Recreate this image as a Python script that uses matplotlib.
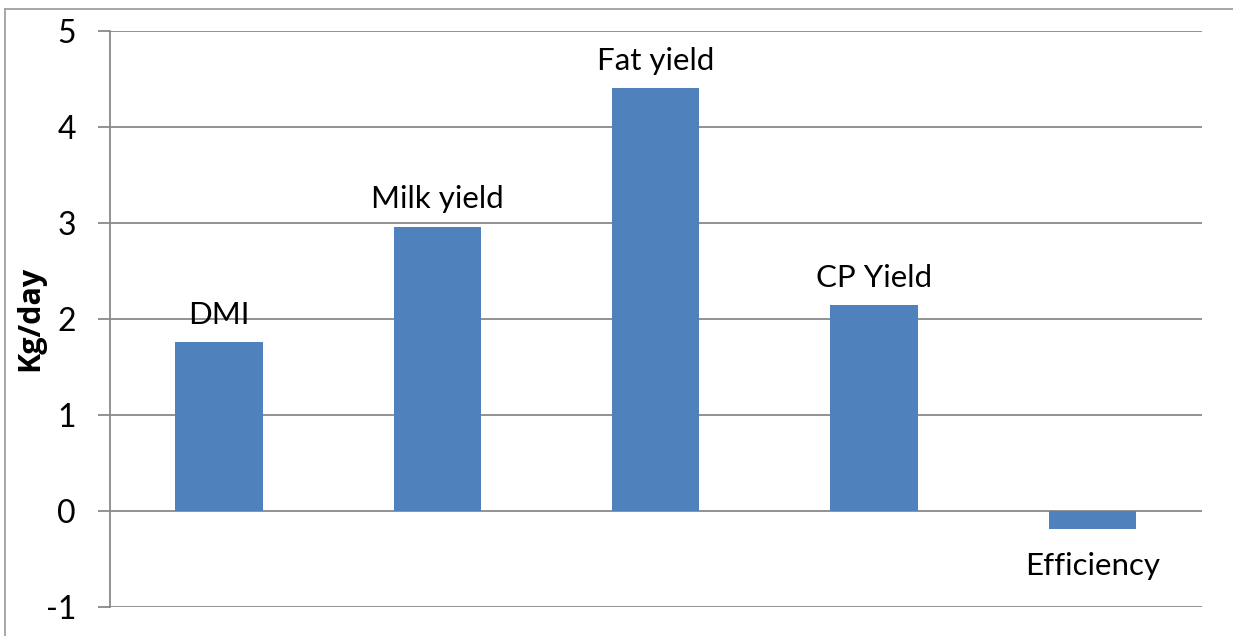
import matplotlib
matplotlib.use("Agg")
import matplotlib.pyplot as plt
from matplotlib.lines import Line2D

categories = ["DMI", "Milk yield", "Fat yield", "CP Yield", "Efficiency"]
values = [1.76, 2.96, 4.40, 2.14, -0.19]
y_ticks = [-1, 0, 1, 2, 3, 4, 5]

plt.rcParams["font.family"] = ["Lato", "DejaVu Sans"]

W, H = 1233, 636
fig = plt.figure(figsize=(W / 100, H / 100), dpi=100)
ax = fig.add_axes([110 / W, (H - 606.7) / H, (1201.5 - 110) / W, 576 / H])

grid_color = "#898989"
x = list(range(len(categories)))
ax.bar(x, values, width=0.4, color="#4F81BD", zorder=3)

ax.set_xlim(-0.5, len(categories) - 0.5)
ax.set_ylim(-1, 5)
ax.set_yticks(y_ticks)
ax.set_yticklabels([str(t) for t in y_ticks], fontsize=23)
ax.set_xticks([])
ax.yaxis.grid(True, color=grid_color, linewidth=1.3, zorder=0)
ax.tick_params(axis="y", length=8.5, width=1.3, color=grid_color, pad=16)
for side in ["top", "right", "bottom"]:
    ax.spines[side].set_visible(False)
ax.spines["left"].set_color(grid_color)
ax.spines["left"].set_linewidth(1.3)
ax.spines["left"].set_zorder(4)

ax.set_ylabel("Kg/day", fontsize=22, fontweight="bold",
              family=["Open Sans", "DejaVu Sans"])
ax.yaxis.label.set_verticalalignment("center")
ax.yaxis.label.set_horizontalalignment("center")
ax.yaxis.set_label_coords((30 - 110) / (1201.5 - 110), 0.5)

for xi, v, name in zip(x, values, categories):
    offset = 13 if v >= 0 else -33
    ax.annotate(name, (xi, v), xytext=(0, offset), textcoords="offset points",
                ha="center", va="baseline", fontsize=22.5)

# chart-area frame (top and left edges)
frame_color = "#A0A0A0"
fig.add_artist(Line2D([5 / W, 1.0], [1 - 9 / H, 1 - 9 / H], transform=fig.transFigure,
                      color=frame_color, linewidth=1.3))
fig.add_artist(Line2D([5 / W, 5 / W], [0.0, 1 - 9 / H], transform=fig.transFigure,
                      color=frame_color, linewidth=1.3))

fig.savefig("out.png", dpi=100)
